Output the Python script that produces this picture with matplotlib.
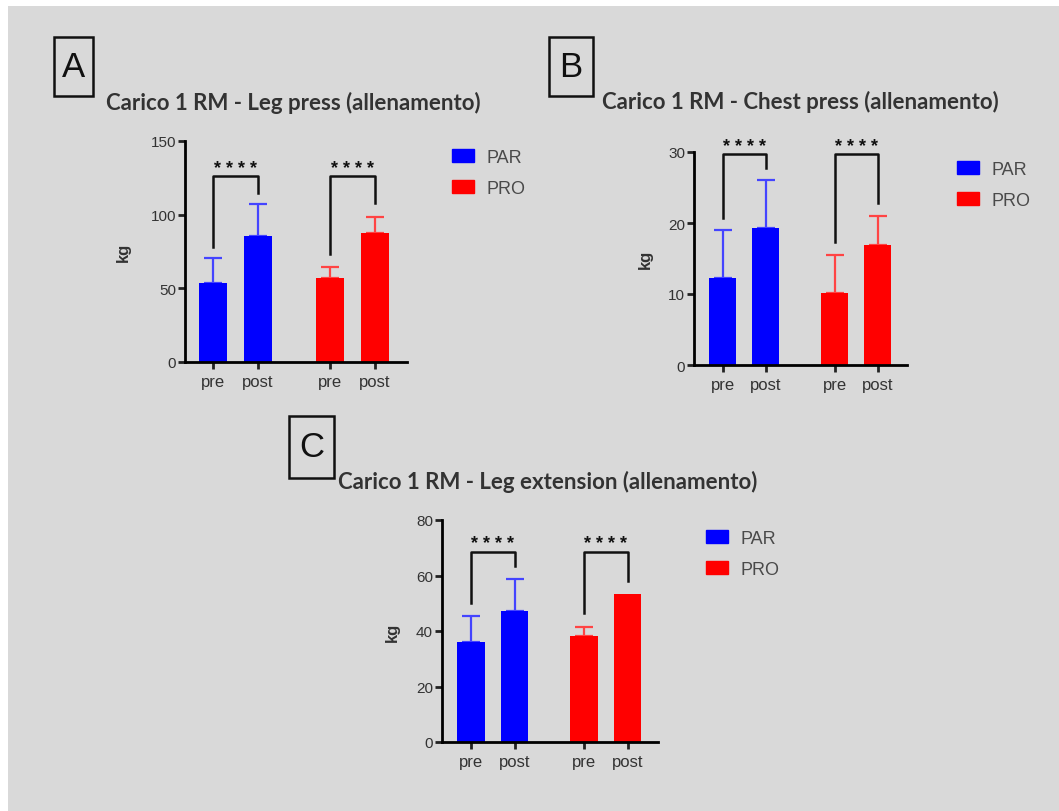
import matplotlib
matplotlib.use("Agg")
import matplotlib.pyplot as plt
from matplotlib.patches import Rectangle, Patch

W, H = 1059, 812

# bar layout: PAR pre/post, PRO pre/post
positions = [0, 1, 2.6, 3.6]
tick_labels = ["pre", "post", "pre", "post"]
bar_colors = ["#0000ff", "#0000ff", "#ff0000", "#ff0000"]
err_colors = ["#4444ff", "#4444ff", "#ff4444", "#ff4444"]

# A - leg press (kg)
legpress_mean = [53.6, 85.5, 57.0, 87.6]
legpress_err = [17.0, 21.5, 7.5, 10.8]
legpress_brackets = [(126, 78, 115), (126, 73, 108)]   # (top, left end, right end)

# B - chest press (kg)
chest_mean = [12.3, 19.3, 10.1, 16.9]
chest_err = [6.7, 6.8, 5.4, 4.1]
chest_brackets = [(29.7, 20.7, 27.7), (29.7, 17.3, 22.8)]

# C - leg extension (kg)
legext_mean = [36.0, 47.2, 38.2, 53.3]
legext_err = [9.4, 11.5, 3.2, 0.0]
legext_brackets = [(68.5, 50.1, 63.4), (68.5, 46.5, 58.0)]

plt.rcParams["font.family"] = ["Liberation Sans", "DejaVu Sans"]

fig = plt.figure(figsize=(W / 100, H / 100), dpi=100, facecolor="white")
# grey slide background
fig.patches.append(Rectangle((8 / W, 0), 1, 1 - 7 / H, transform=fig.transFigure,
                             facecolor="#d9d9d9", edgecolor="none", zorder=-5))


def px_rect(x0, y0, x1, y1):
    return [x0 / W, 1 - y1 / H, (x1 - x0) / W, (y1 - y0) / H]


def draw_panel(box, xlim, means, errs, ymax, ystep, brackets, title, title_xy,
               letter, letter_box, leg_xy, ylabel_x):
    ax = fig.add_axes(px_rect(*box))
    ax.patch.set_alpha(0)
    ax.bar(positions, means, width=0.63, color=bar_colors, zorder=2)
    for p, m, e, c in zip(positions, means, errs, err_colors):
        if e > 0:
            ax.errorbar(p, m, yerr=[[0], [e]], fmt="none", ecolor=c,
                        elinewidth=1.6, capsize=6.5, capthick=1.6, zorder=1)
    ax.set_xlim(*xlim)
    ax.set_ylim(0, ymax)
    ax.set_yticks(range(0, ymax + 1, ystep))
    ax.set_xticks(positions)
    ax.set_xticklabels(tick_labels)
    for s in ["top", "right"]:
        ax.spines[s].set_visible(False)
    for s in ["left", "bottom"]:
        ax.spines[s].set_linewidth(2)
    ax.tick_params(width=2, length=5, colors="#222222", labelcolor="#333333")
    ax.tick_params(axis="y", pad=1.5, labelsize=11)
    ax.tick_params(axis="x", pad=3.5, labelsize=12)
    ax.set_ylabel("kg", fontsize=12, fontweight="bold", color="#333333")
    ax.yaxis.set_label_coords(ylabel_x, 0.5)

    # significance brackets
    for (top, lend, rend), i in zip(brackets, [0, 2]):
        x0, x1 = positions[i], positions[i + 1]
        ax.plot([x0, x0, x1, x1], [lend, top, top, rend], color="#111111",
                lw=1.8, clip_on=False, zorder=4)
        ax.annotate("* * * *", xy=((x0 + x1) / 2, top), xytext=(0, 2.5),
                    textcoords="offset points", ha="center", va="baseline",
                    fontsize=13, fontweight="bold", color="#111111",
                    annotation_clip=False)

    handles = [Patch(color="#0000ff"), Patch(color="#ff0000")]
    ax.legend(handles, ["PAR", "PRO"], loc="upper left",
              bbox_to_anchor=(leg_xy[0] / W, 1 - leg_xy[1] / H),
              bbox_transform=fig.transFigure, frameon=False, fontsize=13,
              handlelength=1.2, handleheight=0.7, handletextpad=0.7,
              labelspacing=0.75, borderpad=0, borderaxespad=0,
              labelcolor="#4a4a4a")

    fig.text(title_xy[0] / W, 1 - title_xy[1] / H, title, ha="center",
             va="center", fontsize=16, fontweight="bold", family="Lato",
             color="#333333")

    lx0, ly0, lx1, ly1 = letter_box
    fig.patches.append(Rectangle((lx0 / W, 1 - ly1 / H), (lx1 - lx0) / W,
                                 (ly1 - ly0) / H, transform=fig.transFigure,
                                 facecolor="none", edgecolor="#111111", lw=1.8))
    fig.text((lx0 + lx1) / 2 / W, 1 - (ly0 + ly1) / 2 / H, letter, ha="center",
             va="center", fontsize=25, family="Liberation Sans", color="#111111")
    return ax


draw_panel((185, 142, 407, 363), (-0.62, 4.31), legpress_mean, legpress_err,
           150, 50, legpress_brackets, "Carico 1 RM - Leg press (allenamento)",
           (293, 103), "A", (54, 38, 93, 97), (452, 150), -0.243)
draw_panel((694, 153, 907, 366), (-0.67, 4.28), chest_mean, chest_err,
           30, 10, chest_brackets, "Carico 1 RM - Chest press (allenamento)",
           (800, 102), "B", (549, 38, 593, 97), (957, 162), -0.192)
draw_panel((442, 521, 658, 743), (-0.67, 4.30), legext_mean, legext_err,
           80, 20, legext_brackets, "Carico 1 RM - Leg extension (allenamento)",
           (548, 482), "C", (289, 417, 334, 479), (706, 531), -0.194)

fig.savefig("out.png", dpi=100, facecolor=fig.get_facecolor())
